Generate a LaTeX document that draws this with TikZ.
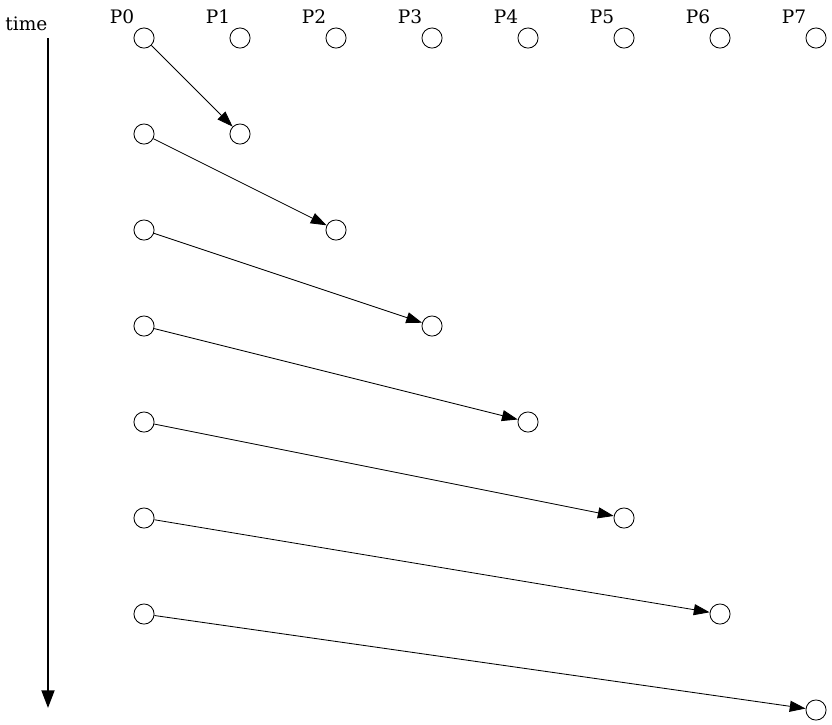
\documentclass[tikz,border=0pt]{standalone}
\usepackage{fontspec}
\setmainfont{DejaVu Serif}
\usepackage{tikz}
\usetikzlibrary{arrows.meta}

\begin{document}
\begin{tikzpicture}[
    font=\fontsize{11}{13}\selectfont,
    proc/.style={draw, circle, minimum size=0.42cm, inner sep=0pt, line width=0.5pt},
    msg/.style={line width=0.5pt, -{Triangle[length=0.33cm, width=0.23cm]}}]
    \useasboundingbox (0,0) rectangle (17.333,-15.104);

    % Time axis
    \node[anchor=base] (timelbl) at (0.55,-0.64) {time};
    \coordinate (tstart) at (1,-0.80);
    \coordinate (tend) at (1,-14.75);
    \draw[line width=1.2pt, -{Triangle[length=0.37cm, width=0.27cm]}] (tstart) -- (tend);

    % Process labels
    \node[anchor=base] (l0) at (2.54,-0.49) {P0};
    \node[anchor=base] (l1) at (4.54,-0.49) {P1};
    \node[anchor=base] (l2) at (6.54,-0.49) {P2};
    \node[anchor=base] (l3) at (8.54,-0.49) {P3};
    \node[anchor=base] (l4) at (10.54,-0.49) {P4};
    \node[anchor=base] (l5) at (12.54,-0.49) {P5};
    \node[anchor=base] (l6) at (14.54,-0.49) {P6};
    \node[anchor=base] (l7) at (16.54,-0.49) {P7};

    % Initial states
    \node[proc] (p0) at (3,-0.792) {};
    \node[proc] (p1) at (5,-0.792) {};
    \node[proc] (p2) at (7,-0.792) {};
    \node[proc] (p3) at (9,-0.792) {};
    \node[proc] (p4) at (11,-0.792) {};
    \node[proc] (p5) at (13,-0.792) {};
    \node[proc] (p6) at (15,-0.792) {};
    \node[proc] (p7) at (17,-0.792) {};

    % Senders (P0)
    \node[proc] (s1) at (3,-2.792) {};
    \node[proc] (s2) at (3,-4.792) {};
    \node[proc] (s3) at (3,-6.792) {};
    \node[proc] (s4) at (3,-8.792) {};
    \node[proc] (s5) at (3,-10.792) {};
    \node[proc] (s6) at (3,-12.792) {};

    % Receivers
    \node[proc] (r1) at (5,-2.792) {};
    \node[proc] (r2) at (7,-4.792) {};
    \node[proc] (r3) at (9,-6.792) {};
    \node[proc] (r4) at (11,-8.792) {};
    \node[proc] (r5) at (13,-10.792) {};
    \node[proc] (r6) at (15,-12.792) {};
    \node[proc] (r7) at (17,-14.792) {};

    % Messages
    \draw[msg] (p0) -- (r1);
    \draw[msg] (s1) -- (r2);
    \draw[msg] (s2) -- (r3);
    \draw[msg] (s3) -- (r4);
    \draw[msg] (s4) -- (r5);
    \draw[msg] (s5) -- (r6);
    \draw[msg] (s6) -- (r7);
  \end{tikzpicture}
\end{document}
